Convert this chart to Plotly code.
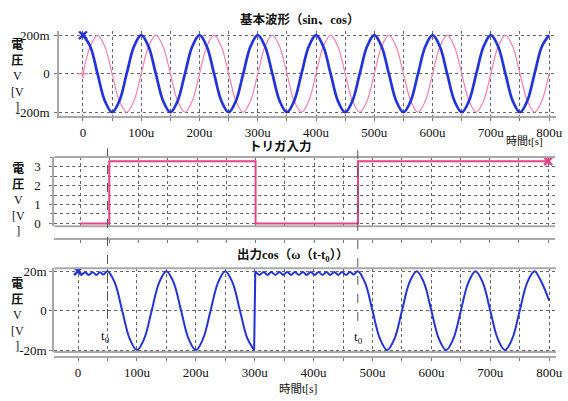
import plotly.graph_objects as go

# ---------------- data (time in microseconds, values in mV / V) ----------------
t_base = [0, 12.5, 25, 37.5, 50, 62.5, 75, 87.5,
          100, 112.5, 125, 137.5, 150, 162.5, 175, 187.5,
          200, 212.5, 225, 237.5, 250, 262.5, 275, 287.5,
          300, 312.5, 325, 337.5, 350, 362.5, 375, 387.5,
          400, 412.5, 425, 437.5, 450, 462.5, 475, 487.5,
          500, 512.5, 525, 537.5, 550, 562.5, 575, 587.5,
          600, 612.5, 625, 637.5, 650, 662.5, 675, 687.5,
          700, 712.5, 725, 737.5, 750, 762.5, 775, 787.5,
          800]
cos_mV = [200, 141, 0, -141, -200, -141, 0, 141,
          200, 141, 0, -141, -200, -141, 0, 141,
          200, 141, 0, -141, -200, -141, 0, 141,
          200, 141, 0, -141, -200, -141, 0, 141,
          200, 141, 0, -141, -200, -141, 0, 141,
          200, 141, 0, -141, -200, -141, 0, 141,
          200, 141, 0, -141, -200, -141, 0, 141,
          200, 141, 0, -141, -200, -141, 0, 141,
          200]
sin_mV = [0, 141, 200, 141, 0, -141, -200, -141,
          0, 141, 200, 141, 0, -141, -200, -141,
          0, 141, 200, 141, 0, -141, -200, -141,
          0, 141, 200, 141, 0, -141, -200, -141,
          0, 141, 200, 141, 0, -141, -200, -141,
          0, 141, 200, 141, 0, -141, -200, -141,
          0, 141, 200, 141, 0, -141, -200, -141,
          0, 141, 200, 141, 0, -141, -200, -141,
          0]

t_trig = [0, 50, 50, 300, 300, 475, 475, 800]
v_trig = [0, 0, 3.3, 3.3, 0, 0, 3.3, 3.3]

t_out_a = [0, 6, 12, 18, 25, 31, 37, 43, 50,
           62.5, 75, 87.5, 100, 112.5, 125, 137.5, 150, 162.5, 175, 187.5,
           200, 212.5, 225, 237.5, 250, 262.5, 275, 287.5, 299]
v_out_a = [20, 18.2, 19.5, 18.1, 19.5, 18.1, 19.5, 18.3, 20,
           14.1, 0, -14.1, -20, -14.1, 0, 14.1, 20, 14.1, 0, -14.1,
           -20, -14.1, 0, 14.1, 20, 14.1, 0, -14.1, -20]
t_out_b = [301, 308, 315, 322, 328, 335, 342, 348, 355, 362,
           368, 375, 382, 388, 395, 402, 408, 415, 422, 428,
           435, 442, 448, 455, 462, 468, 475,
           487.5, 500, 512.5, 525, 537.5, 550, 562.5, 575, 587.5,
           600, 612.5, 625, 637.5, 650, 662.5, 675, 687.5,
           700, 712.5, 725, 737.5, 750, 762.5, 775, 787.5, 800]
v_out_b = [20, 18.1, 19.6, 18.1, 19.6, 18.1, 19.6, 18.1, 19.6, 18.1,
           19.6, 18.1, 19.6, 18.1, 19.6, 18.1, 19.6, 18.1, 19.6, 18.1,
           19.6, 18.1, 19.6, 18.1, 19.6, 18.3, 20,
           14.1, 0, -14.1, -20, -14.1, 0, 14.1, 20, 14.1,
           0, -14.1, -20, -14.1, 0, 14.1, 20, 14.1,
           0, -14.1, -20, -14.1, 0, 14.1, 20, 14.1, 5]

x_tick_vals = [0, 100, 200, 300, 400, 500, 600, 700, 800]
x_tick_text = ["0", "100u", "200u", "300u", "400u", "500u", "600u", "700u", "800u"]
y1_vals = [-200, 0, 200]
y1_text = ["-200m", "0", "200m"]
y2_vals = [0, 1, 2, 3]
y2_text = ["0", "1", "2", "3"]
y3_vals = [-20, 0, 20]
y3_text = ["-20m", "0", "20m"]

# ---------------- styling ----------------
W, H = 568, 401
def px(x): return x / W
def py(y): return 1 - y / H

BLUE = "#2233dd"
PINK_L = "#f27fb0"
PINK = "#e8418a"
FRAME = "#a8a8a8"
GRID = "#666666"
FONT = "Liberation Serif, Noto Sans CJK JP, serif"

fig = go.Figure()

# top panel
fig.add_trace(go.Scatter(x=t_base, y=sin_mV, mode="lines", line=dict(color=PINK_L, width=1.2, shape="spline"),
                         xaxis="x", yaxis="y"))
fig.add_trace(go.Scatter(x=t_base, y=cos_mV, mode="lines", line=dict(color=BLUE, width=2.7, shape="spline"),
                         xaxis="x", yaxis="y"))
fig.add_trace(go.Scatter(x=[t_base[0]], y=[cos_mV[0]], mode="markers",
                         marker=dict(symbol="x-thin", size=8, line=dict(color=BLUE, width=2.5)),
                         xaxis="x", yaxis="y"))
fig.add_trace(go.Scatter(x=[t_base[0]], y=[sin_mV[0]], mode="markers",
                         marker=dict(symbol="cross-thin", size=7, line=dict(color=PINK_L, width=1.5)),
                         xaxis="x", yaxis="y"))

# middle panel
fig.add_trace(go.Scatter(x=t_trig, y=v_trig, mode="lines", line=dict(color=PINK, width=2),
                         xaxis="x2", yaxis="y2"))
fig.add_trace(go.Scatter(x=[t_trig[-1]], y=[v_trig[-1]], mode="markers",
                         marker=dict(symbol="x-thin", size=8, line=dict(color=PINK, width=2.5)),
                         xaxis="x2", yaxis="y2"))

# bottom panel
fig.add_trace(go.Scatter(x=t_out_a, y=v_out_a, mode="lines", line=dict(color=BLUE, width=2, shape="spline"),
                         xaxis="x3", yaxis="y3"))
fig.add_trace(go.Scatter(x=[t_out_a[-1], t_out_b[0]], y=[v_out_a[-1], v_out_b[0]], mode="lines",
                         line=dict(color=BLUE, width=2), xaxis="x3", yaxis="y3"))
fig.add_trace(go.Scatter(x=t_out_b, y=v_out_b, mode="lines", line=dict(color=BLUE, width=2, shape="spline"),
                         xaxis="x3", yaxis="y3"))
fig.add_trace(go.Scatter(x=[t_out_a[0]], y=[v_out_a[0]], mode="markers",
                         marker=dict(symbol="x-thin", size=8, line=dict(color=BLUE, width=2.5)),
                         xaxis="x3", yaxis="y3"))

TICKFONT = dict(family=FONT, size=13, color="#111")

def xax(domain, rng, anchor, position=None, labels=True):
    d = dict(domain=domain, range=rng, anchor=anchor, tickmode="array",
             tickvals=x_tick_vals, ticktext=x_tick_text, showticklabels=labels,
             ticklabeloverflow="allow",
             showgrid=True, gridcolor=GRID, griddash="dot", gridwidth=1,
             zeroline=False, showline=True, linecolor=FRAME, linewidth=2,
             ticks="outside", ticklen=3, tickcolor="#777", tickwidth=1,
             minor=dict(tickmode="linear", tick0=0, dtick=50, ticks="outside", ticklen=3,
                        tickcolor="#777", showgrid=True, gridcolor=GRID, griddash="dot", gridwidth=1),
             tickfont=TICKFONT)
    if position is not None:
        d["position"] = position
    return d

def ruler(domain, rng, overlay, anchor, position=None):
    d = dict(domain=domain, range=rng, overlaying=overlay, anchor=anchor,
             tickmode="linear", tick0=0, dtick=10, ticks="outside", ticklen=2, tickcolor="#777",
             showticklabels=False, showgrid=False, zeroline=False, showline=False)
    if position is not None:
        d["position"] = position
    return d

def yax(domain, rng, anchor, vals, text, standoff, minor_dtick=None):
    d = dict(domain=domain, range=rng, anchor=anchor, tickmode="array",
             tickvals=vals, ticktext=text, showgrid=True, gridcolor=GRID, griddash="dot",
             gridwidth=1, zeroline=False, showline=True, linecolor=FRAME, linewidth=2,
             ticks="outside", ticklen=3, tickcolor="#777",
             ticklabelstandoff=standoff, tickfont=TICKFONT)
    if minor_dtick:
        d["minor"] = dict(tickmode="linear", tick0=0, dtick=minor_dtick, ticks="outside", ticklen=2,
                          tickcolor="#777", showgrid=True, gridcolor=GRID, griddash="dot", gridwidth=1)
    return d

X1D, X1R = [px(60), px(563)], [-40.7, 811.9]
X2D, X2R = [px(55), px(562)], [-43.9, 811.8]
X3D, X3R = [px(55), px(563)], [-40.3, 811.7]

layout = dict(
    width=W, height=H, margin=dict(l=0, r=0, t=0, b=0),
    paper_bgcolor="white", plot_bgcolor="white", showlegend=False,
    font=dict(family=FONT, color="#111"),
    xaxis=xax(X1D, X1R, "y"),
    yaxis=yax([py(115), py(28)], [-220, 220], "x", y1_vals, y1_text, 2),
    xaxis2=xax(X2D, X2R, "free", position=py(241), labels=False),
    yaxis2=yax([py(228), py(157)], [-0.155, 3.517], "x2", y2_vals, y2_text, 6, 0.5),
    xaxis3=xax(X3D, X3R, "free", position=py(362)),
    yaxis3=yax([py(357), py(271)], [-21.0, 21.48], "x3", y3_vals, y3_text, 0),
    xaxis4=ruler(X1D, X1R, "x", "y"),
    xaxis5=ruler(X2D, X2R, "x2", "free", py(241)),
    xaxis6=ruler(X3D, X3R, "x3", "free", py(362)),
)
fig.update_layout(**layout)

shapes = []
for (x0, x1, y) in [(55, 562, 157), (55, 562, 228), (55, 563, 271), (55, 563, 357)]:
    shapes.append(dict(type="line", xref="paper", yref="paper", x0=px(x0), x1=px(x1), y0=py(y), y1=py(y),
                       line=dict(color=FRAME, width=2)))
for (tx, ytop, ybot) in [(50, 148, 322), (475, 150, 325)]:
    shapes.append(dict(type="line", xref="x3", yref="paper", x0=tx, x1=tx, y0=py(ybot), y1=py(ytop),
                       line=dict(color="#555", width=1, dash="dash")))
fig.update_layout(shapes=shapes)

ann = []
def A(text, x, y, size=12, bold=False, xanchor="center"):
    t = f"<b>{text}</b>" if bold else text
    ann.append(dict(text=t, x=px(x), y=py(y), xref="paper", yref="paper", showarrow=False,
                    xanchor=xanchor, yanchor="middle", font=dict(family=FONT, size=size, color="#111")))

A("基本波形（sin、cos）", 303, 16, 12.5, True)
A("トリガ入力", 284, 146, 12.5, True)
A("出力cos（ω（t-t<sub>0</sub>））", 296, 258, 12.5, True)
ylab = "<b>電<br>圧</b><br>V<br>[V<br>]"
A(ylab, 18, 74, 12)
A(ylab, 19, 201, 12)
A(ylab, 18, 319, 12)
A("時間t[s]", 531, 141, 11)
A("時間t[s]", 302, 395, 11.5)
A("t<sub>0</sub>", 107, 341, 13)
A("t<sub>0</sub>", 363, 342, 13)
fig.update_layout(annotations=ann)

fig.write_html("out.html", config={"displayModeBar": False},
               post_script="document.body.style.margin='0';document.body.style.overflow='hidden';")
